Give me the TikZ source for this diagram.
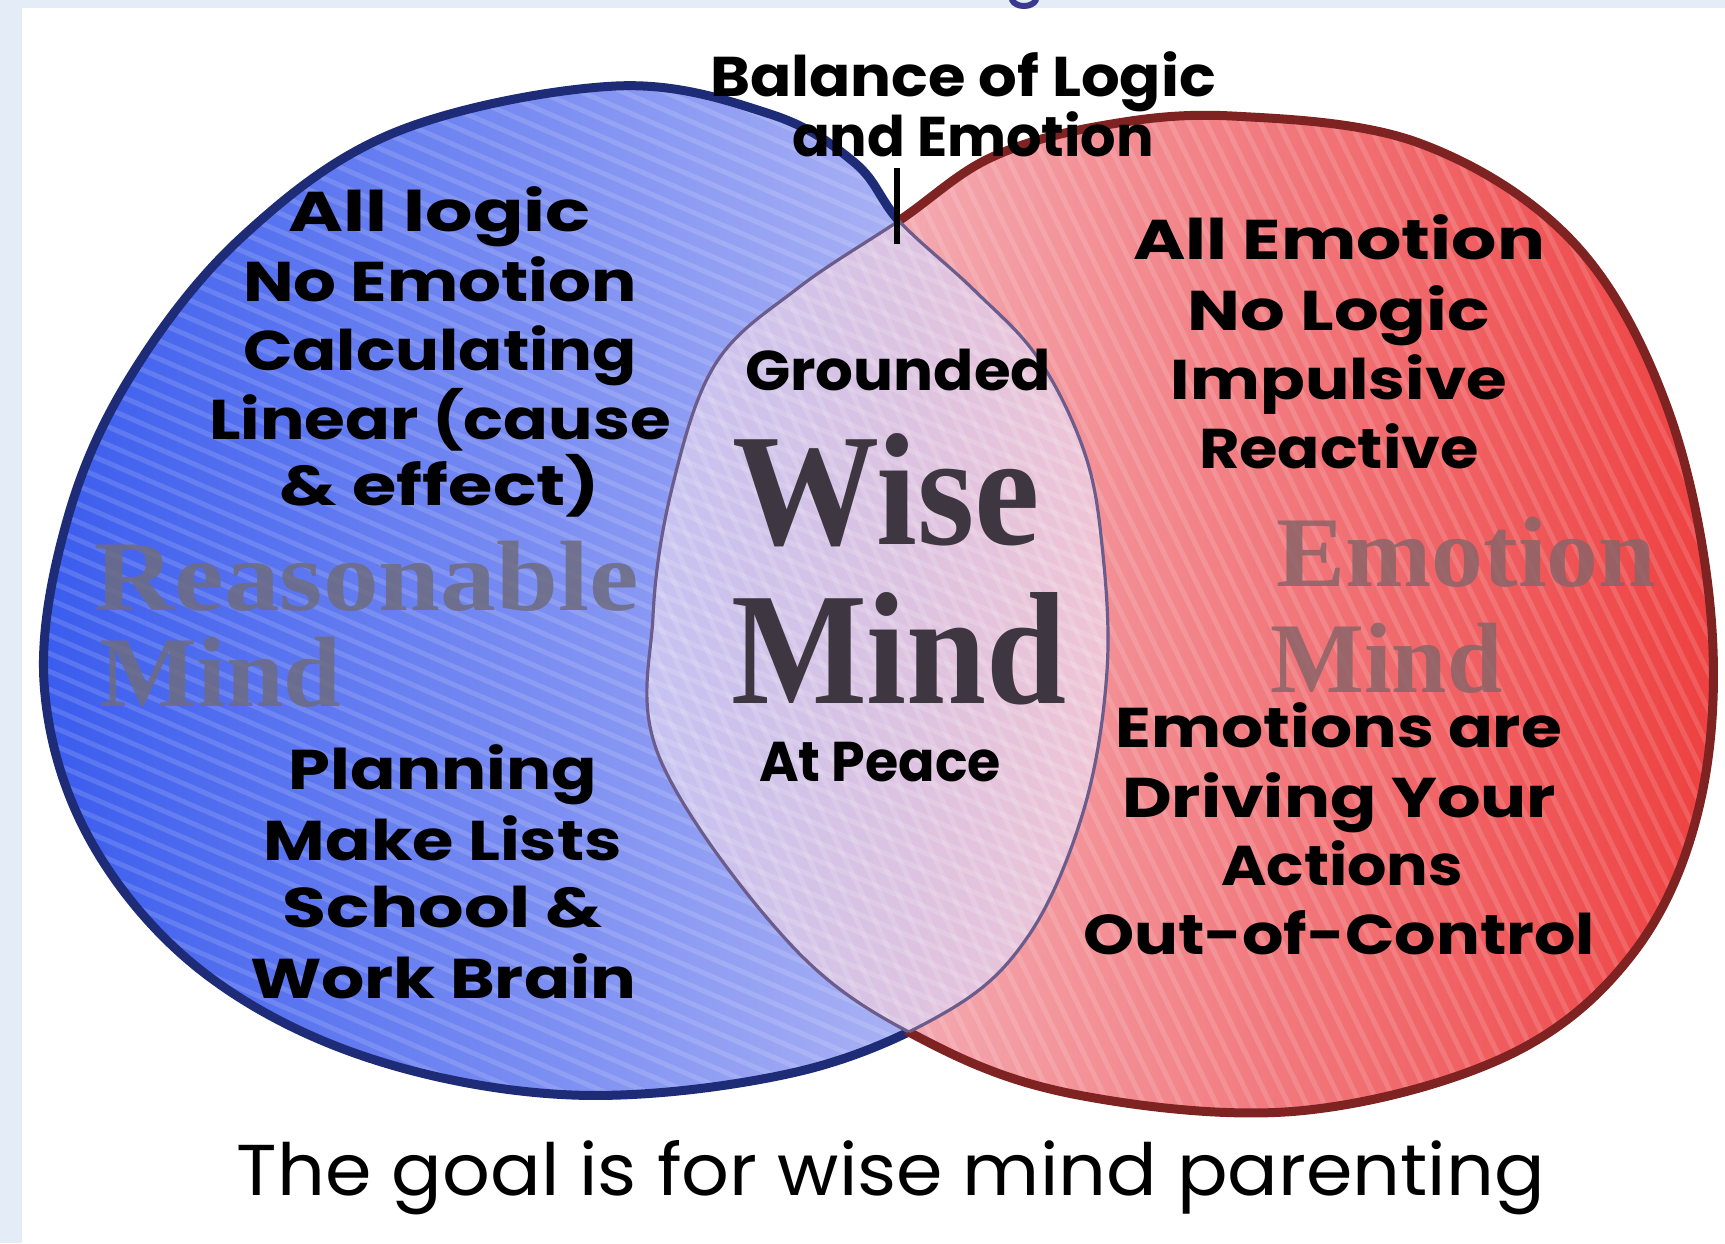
\documentclass[tikz,border=0pt]{standalone}
\usepackage{fontspec}
\usepackage{graphicx}
\newfontfamily\handfont{Poppins}
\newfontfamily\bigserif{Liberation Serif}
\newfontfamily\capfont{Poppins}
\newcommand\hw[2]{\resizebox{#1}{\height}{#2}}
\definecolor{bgblue}{HTML}{E4ECF7}
\definecolor{blueA}{HTML}{3A5CEE}
\definecolor{blueB}{HTML}{7C90F0}
\definecolor{blueC}{HTML}{C4C6F6}
\definecolor{redA}{HTML}{F6CCD6}
\definecolor{redB}{HTML}{F4A4A8}
\definecolor{redC}{HTML}{EE4040}
\definecolor{lensL}{HTML}{C4C2F2}
\definecolor{lensR}{HTML}{F0C4D4}
\definecolor{blueline}{HTML}{1E2C78}
\definecolor{redline}{HTML}{7E2222}
\definecolor{innerline}{HTML}{6C5C8C}
\definecolor{wisegray}{HTML}{3E3640}
\definecolor{reasgray}{HTML}{6E6C80}
\definecolor{emogray}{HTML}{8A6468}
\definecolor{topglyph}{HTML}{3A3A90}
\def\blueshape{plot[smooth cycle, tension=0.6] coordinates {
 (44,682) (68,517) (132,374) (242,237) (396,132) (616,86) (770,114) (855,163) (900,222)
 (974,290) (1038,358) (1084,451) (1102,545) (1107,671) (1084,809) (1029,935)
 (946,1012) (792,1073) (572,1095) (363,1056) (198,968) (88,836)}}
\def\redshape{plot[smooth cycle, tension=0.6] coordinates {
 (660,759) (653,616) (673,484) (716,363) (798,288) (900,220) (990,158) (1100,126)
 (1232,116) (1419,143) (1573,242) (1667,407) (1711,616) (1700,803) (1634,952)
 (1507,1056) (1298,1111) (1078,1095) (924,1040) (792,946)}}
\def\bigrect{(-20,-20) -- (-20,1263) -- (1745,1263) -- (1745,-20) -- cycle}
\tikzset{
  lab/.style={font=\handfont\bfseries\fontsize{28}{34}\selectfont, text=black, inner sep=0pt, text height=0.72em, text depth=0.2em},
  bigword/.style={font=\bigserif\bfseries\fontsize{50}{56}\selectfont, inner sep=0pt, anchor=west},
  wiseword/.style={font=\bigserif\bfseries\fontsize{80}{84}\selectfont, inner sep=0pt, text=wisegray},
  captxt/.style={font=\capfont\fontsize{36}{40}\selectfont, text=black, inner sep=0pt, text height=0.75em, text depth=0.25em},
  thickblue/.style={draw=blueline, line width=4.5pt},
  thickred/.style={draw=redline, line width=4.5pt},
  thinline/.style={draw=innerline, line width=1.6pt},
  streak/.style={draw=white, line width=2.5pt, opacity=0.14}
}
\begin{document}
\begin{tikzpicture}[x=0.5pt,y=-0.5pt]
\useasboundingbox (0,0) rectangle (1725,1243);
% background
\fill[bgblue] (0,0) rectangle (1725,1243);
\fill[white] (22,8) rectangle (1725,1243);
\draw[topglyph, line width=3pt, line cap=round] (1012,0) .. controls (1016,8) and (1032,8) .. (1036,0);
% fills
\shade[left color=blueA, middle color=blueB, right color=blueC] \blueshape;
\shade[left color=redA, middle color=redB, right color=redC] \redshape;
\begin{scope}
  \clip \blueshape;
  \clip \redshape;
  \shade[left color=lensL, right color=lensR] (640,0) rectangle (1115,1243);
\end{scope}
% crayon streaks
\begin{scope}
  \clip \blueshape;
  \foreach \i in {-700,-682,...,1300} \draw[streak] (0,\i) -- ++(1200,520);
\end{scope}
\begin{scope}
  \clip \redshape;
  \foreach \i in {600,618,...,2400} \draw[streak] (\i,1243) -- ++(-560,-1150);
\end{scope}
% thick outer outlines
\begin{scope}[even odd rule]
  \clip \bigrect \redshape;
  \draw[thickblue] \blueshape;
\end{scope}
\begin{scope}[even odd rule]
  \clip \bigrect \blueshape;
  \draw[thickred] \redshape;
\end{scope}
% thin inner outlines
\begin{scope}
  \clip \redshape;
  \draw[thinline] \blueshape;
\end{scope}
\begin{scope}
  \clip \blueshape;
  \draw[thinline] \redshape;
\end{scope}
% big gray words
\node[bigword, text=reasgray, opacity=0.85] (reas) at (94,576) {\hw{272pt}{Reasonable}};
\node[bigword, text=reasgray, opacity=0.85] (reasmind) at (99,672) {\hw{121pt}{Mind}};
\node[bigword, text=emogray, opacity=0.85] (emo) at (1276,552) {\hw{190pt}{Emotion}};
\node[bigword, text=emogray, opacity=0.85] (emomind) at (1270,658) {\hw{116pt}{Mind}};
\node[wiseword] (wise) at (886,490) {\hw{154pt}{Wise}};
\node[wiseword] (wisemind) at (899,649) {\hw{168pt}{Mind}};
% top label and tick
\node[lab] (bal1) at (963,91) {\hw{253pt}{Balance of Logic}};
\node[lab] (bal2) at (973,151) {\hw{181pt}{and Emotion}};
\coordinate (tickA) at (897,168);
\coordinate (tickB) at (897,244);
\draw[black, line width=3pt] (tickA) -- (tickB);
% left upper
\node[lab] (l1) at (440,226) {\hw{151pt}{All logic}};
\node[lab] (l2) at (440,296) {\hw{197pt}{No Emotion}};
\node[lab] (l3) at (440,365) {\hw{197pt}{Calculating}};
\node[lab] (l4) at (440,434) {\hw{231pt}{Linear (cause}};
\node[lab] (l5) at (440,500) {\hw{160pt}{\& effect)}};
% left lower
\node[lab] (p1) at (443,784) {\hw{154pt}{Planning}};
\node[lab] (p2) at (443,855) {\hw{179pt}{Make Lists}};
\node[lab] (p3) at (443,922) {\hw{160pt}{School \&}};
\node[lab] (p4) at (443,993) {\hw{193pt}{Work Brain}};
% middle
\node[lab] (gr) at (898,385) {\hw{153pt}{Grounded}};
\node[lab] (ap) at (880,776) {\hw{121pt}{At Peace}};
% right upper
\node[lab] (r1) at (1339,254) {\hw{206pt}{All Emotion}};
\node[lab] (r2) at (1339,325) {\hw{151pt}{No Logic}};
\node[lab] (r3) at (1339,394) {\hw{168pt}{Impulsive}};
\node[lab] (r4) at (1339,463) {\hw{140pt}{Reactive}};
% right lower
\node[lab] (e1) at (1339,742) {\hw{223pt}{Emotions are}};
\node[lab] (e2) at (1339,812) {\hw{217pt}{Driving Your}};
\node[lab] (e3) at (1342,880) {\hw{121pt}{Actions}};
\node[lab] (e4) at (1339,949) {\hw{256pt}{Out-of-Control}};
% caption
\node[captxt] (cap) at (891,1190) {\hw{654pt}{The goal is for wise mind parenting}};
\end{tikzpicture}
\end{document}
